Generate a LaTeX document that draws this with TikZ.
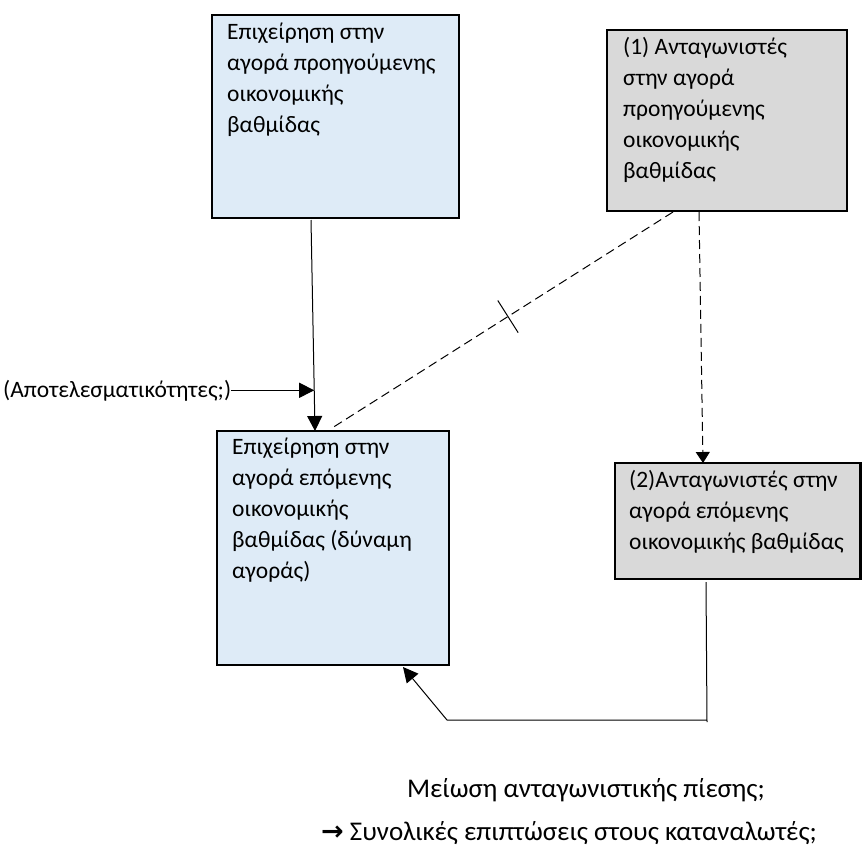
\documentclass[tikz,border=0pt]{standalone}
\usepackage{fontspec}
\setmainfont{Carlito}
\newfontfamily\arrowfont{DejaVu Sans}
\usetikzlibrary{arrows.meta,calc}
\definecolor{boxblue}{HTML}{DEEBF7}
\definecolor{boxgrey}{HTML}{D9D9D9}
\begin{document}
\begin{tikzpicture}[x=1pt,y=-1pt,
  box/.style={draw=black, line width=2.5pt, anchor=north west, inner sep=0pt, outer sep=0pt},
  firmbox/.style={box, fill=boxblue},
  rivalbox/.style={box, fill=boxgrey},
  boxtext/.style={anchor=north west, inner sep=0pt, align=left,
    font=\fontsize{23.5pt}{31pt}\selectfont},
  note/.style={inner sep=0pt, font=\fontsize{23.5pt}{31pt}\selectfont},
  bottomnote/.style={inner sep=0pt, anchor=base east, font=\fontsize{27pt}{32pt}\selectfont},
  link/.style={line width=1pt},
  dashlink/.style={line width=1pt, dash pattern=on 9pt off 5pt},
  tip/.style={-{Triangle[length=15pt,width=15pt]}},
  smalltip/.style={-{Triangle[length=11pt,width=14pt]}}]
\useasboundingbox (0,0) rectangle (862,857);

% boxes
\node[firmbox, minimum width=247pt, minimum height=203pt] (b1) at (212,15) {};
\node[rivalbox, minimum width=240pt, minimum height=181pt] (b2) at (607,30) {};
\node[firmbox, minimum width=232pt, minimum height=234pt] (b3) at (217,431) {};
\node[rivalbox, minimum width=245.5pt, minimum height=116pt] (b4) at (615,463) {};

% box labels
\node[boxtext] (t1) at ($(b1.north west)+(15,0)$)
  {\rule{0pt}{24pt}Επιχείρηση στην\\αγορά προηγούμενης\\οικονομικής\\βαθμίδας};
\node[boxtext] (t2) at ($(b2.north west)+(16,0)$)
  {\rule{0pt}{24pt}(1) Ανταγωνιστές\\στην αγορά\\προηγούμενης\\οικονομικής\\βαθμίδας};
\node[boxtext] (t3) at ($(b3.north west)+(15,0)$)
  {\rule{0pt}{23pt}Επιχείρηση στην\\αγορά επόμενης\\οικονομικής\\βαθμίδας (δύναμη\\αγοράς)};
\node[boxtext] (t4) at ($(b4.north west)+(14,0)$)
  {\rule{0pt}{24pt}(2)Ανταγωνιστές στην\\αγορά επόμενης\\οικονομικής βαθμίδας};

% upstream firm to downstream firm
\coordinate (p1) at ($(b1.south west)+(99,2)$);
\coordinate (p2) at ($(b3.north west)+(98,0)$);
\draw[link, tip] (p1) -- (p2);

% efficiencies feeding into that link
\node[note, anchor=base west] (eff) at (3,397) {(Αποτελεσματικότητες;)};
\coordinate (m) at ($(p1)!0.81!(p2)$);
\draw[link, tip] (eff.east) -- (eff.east -| m);

% cut link between upstream rivals and downstream firm
\coordinate (d1) at ($(b2.south west)+(66,1)$);
\coordinate (d2) at ($(b3.north west)+(115,-3)$);
\draw[dashlink] (d1) -- (d2);
\coordinate (tk) at ($(d1)!0.484!(d2)$);
\draw[link] ($(tk)!19pt!90:(d1)$) -- ($(tk)!19pt!-90:(d1)$);

% upstream rivals to downstream rivals
\coordinate (r1) at ($(b2.south west)+(92,1)$);
\coordinate (r2) at ($(b4.north west)+(88,0)$);
\draw[dashlink, smalltip] (r1) -- (r2);

% downstream rivals back to downstream firm
\coordinate (q0) at ($(b4.south west)+(91,3)$);
\coordinate (q1) at (707,722);
\coordinate (q2) at (707,720);
\coordinate (q3) at (447,720);
\coordinate (q4) at ($(b3.south west)+(186,2)$);
\draw[link] (q0) -- (q1);
\draw[link, tip] (q2) -- (q3) -- (q4);

% notes below
\node[bottomnote] (n1) at (765,797) {Μείωση ανταγωνιστικής πίεσης;};
\node[bottomnote] (n2) at (817,840) {{\arrowfont\bfseries →} Συνολικές επιπτώσεις στους καταναλωτές;};
\end{tikzpicture}
\end{document}
